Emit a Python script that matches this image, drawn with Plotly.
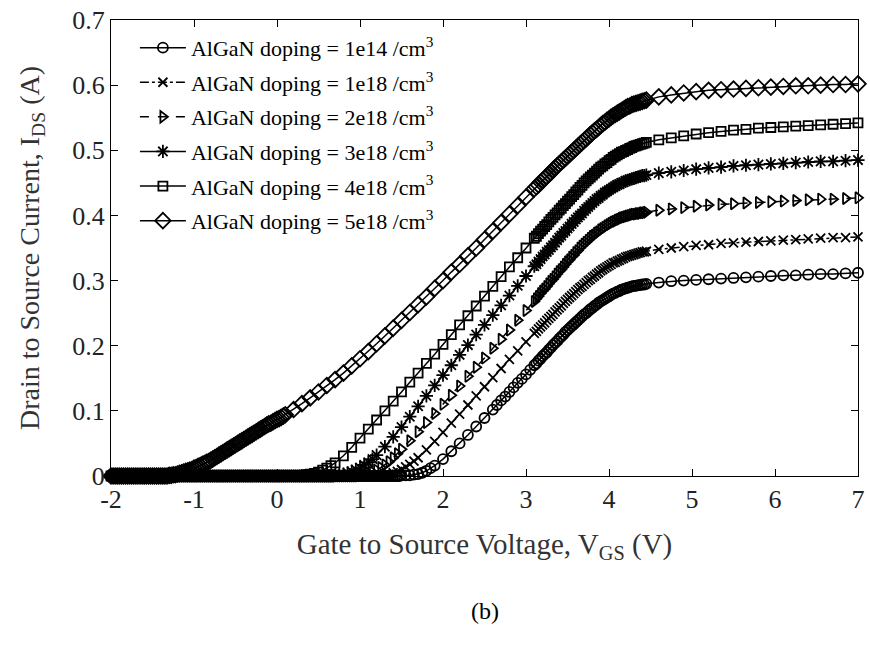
import plotly.graph_objects as go

# ---------------------------------------------------------------------------
# Transfer characteristics I_DS(V_GS) for six AlGaN barrier doping levels.
# The sweep is stored in pieces: a common off-state sweep, a per-device
# turn-on / linear part, a common fine sweep through the knee and a common
# coarse sweep through saturation.
# ---------------------------------------------------------------------------

# Off-state sweep (V) and current (A), shared by all devices
vgs_off = [
    -2.0, -1.975, -1.95, -1.925, -1.9, -1.875, -1.85, -1.825, -1.8, -1.775,
    -1.75, -1.725, -1.7, -1.675, -1.65, -1.625, -1.6, -1.575, -1.55, -1.525,
    -1.5, -1.475, -1.45, -1.425, -1.4, -1.375, -1.35, -1.325, -1.3, -1.275,
    -1.25, -1.225, -1.2, -1.175, -1.15, -1.125, -1.1, -1.075, -1.05, -1.025,
    -1.0, -0.975, -0.95, -0.925, -0.9, -0.875, -0.85, -0.825, -0.8, -0.775,
    -0.75, -0.725, -0.7, -0.675, -0.65, -0.625, -0.6, -0.575, -0.55, -0.525,
    -0.5, -0.475, -0.45, -0.425, -0.4, -0.375, -0.35, -0.325, -0.3, -0.275,
    -0.25, -0.225, -0.2, -0.175, -0.15, -0.125, -0.1, -0.075, -0.05, -0.025,
    0.0, 0.025, 0.05, 0.075, 0.1, 0.125, 0.15, 0.175, 0.2, 0.225,
    0.25, 0.275, 0.3, 0.325, 0.35, 0.375, 0.4, 0.425, 0.45, 0.475,
    0.5, 0.525, 0.55, 0.575, 0.6, 0.625, 0.65, 0.675, 0.7, 0.725,
    0.75, 0.775, 0.8, 0.825, 0.85, 0.875, 0.9, 0.925, 0.95, 0.975,
    1.0, 1.025, 1.05, 1.075, 1.1, 1.125, 1.15, 1.175, 1.2, 1.225,
    1.25, 1.275, 1.3, 1.325, 1.35, 1.375, 1.4, 1.425, 1.45, 1.475,
]
ids_off = [
    0, 0, 0, 0, 0, 0, 0, 0, 0, 0,
    0, 0, 0, 0, 0, 0, 0, 0, 0, 0,
    0, 0, 0, 0, 0, 0, 0, 0, 0, 0,
    0, 0, 0, 0, 0, 0, 0, 0, 0, 0,
    0, 0, 0, 0, 0, 0, 0, 0, 0, 0,
    0, 0, 0, 0, 0, 0, 0, 0, 0, 0,
    0, 0, 0, 0, 0, 0, 0, 0, 0, 0,
    0, 0, 0, 0, 0, 0, 0, 0, 0, 0,
    0, 0, 0, 0, 0, 0, 0, 0, 0, 0,
    0, 0, 0, 0, 0, 0, 0, 0, 0, 0,
    0, 0, 0, 0, 0, 0, 0, 0, 0, 0,
    0, 0, 0, 0, 0, 0, 0, 0, 0, 0,
    0, 0, 0, 0, 0, 0, 0, 0, 0, 0,
    0, 0, 0, 0, 0, 0, 0, 0, 0, 0,
]
# number of off-state points used by each device (last one below its turn-on)
n_off = {"1e14": 140, "1e18": 128, "2e18": 120, "3e18": 108, "4e18": 92, "5e18": 28}

# Turn-on and linear region, per device
vgs_rise = {
    "1e14": [1.5, 1.55, 1.6, 1.65, 1.7, 1.75, 1.8, 1.85, 1.9,
             2.0, 2.1, 2.2, 2.3, 2.4, 2.5, 2.6,
             2.65, 2.7, 2.75, 2.8, 2.85, 2.9, 2.95, 3.0, 3.05, 3.1],
    "1e18": [1.2, 1.25, 1.3, 1.35, 1.4, 1.45, 1.5, 1.55, 1.6, 1.65, 1.7,
             1.8, 1.9, 2.0, 2.1, 2.2, 2.3, 2.4, 2.5, 2.6, 2.7, 2.8, 2.9, 3.0, 3.1],
    "2e18": [1.0, 1.05, 1.1, 1.15, 1.2, 1.25, 1.3, 1.35, 1.4, 1.45, 1.5,
             1.6, 1.7, 1.8, 1.9, 2.0, 2.1, 2.2, 2.3, 2.4, 2.5, 2.6, 2.7, 2.8, 2.9, 3.0, 3.1],
    "3e18": [0.7, 0.75, 0.8, 0.85, 0.9, 0.95, 1.0, 1.05, 1.1, 1.15, 1.2,
             1.3, 1.4, 1.5, 1.6, 1.7, 1.8, 1.9, 2.0, 2.1, 2.2, 2.3, 2.4, 2.5, 2.6,
             2.7, 2.8, 2.9, 3.0, 3.1],
    "4e18": [0.3, 0.35, 0.4, 0.45, 0.5, 0.55, 0.6, 0.65, 0.7,
             0.8, 0.9, 1.0, 1.1, 1.2, 1.3, 1.4, 1.5, 1.6, 1.7, 1.8, 1.9, 2.0, 2.1,
             2.2, 2.3, 2.4, 2.5, 2.6, 2.7, 2.8, 2.9, 3.0, 3.1],
    "5e18": [-1.3, -1.275, -1.25, -1.225, -1.2, -1.175, -1.15, -1.125, -1.1, -1.075,
             -1.05, -1.025, -1.0, -0.975, -0.95, -0.925, -0.9, -0.875, -0.85, -0.825,
             -0.8, -0.775, -0.75, -0.725, -0.7, -0.675, -0.65, -0.625, -0.6, -0.575,
             -0.55, -0.525, -0.5, -0.475, -0.45, -0.425, -0.4, -0.375, -0.35, -0.325,
             -0.3, -0.275, -0.25, -0.225, -0.2, -0.175, -0.15, -0.125, -0.1, -0.075,
             -0.05, -0.025, 0.0, 0.025, 0.05, 0.075, 0.1,
             0.2, 0.3, 0.4, 0.5, 0.6, 0.7, 0.8, 0.9, 1.0, 1.1, 1.2, 1.3, 1.4, 1.5,
             1.6, 1.7, 1.8, 1.9, 2.0, 2.1, 2.2, 2.3, 2.4, 2.5, 2.6, 2.7, 2.8, 2.9,
             3.0, 3.1],
}
ids_rise = {
    "1e14": [0.001, 0.001, 0.001, 0.002, 0.003, 0.005, 0.008, 0.012, 0.016,
             0.026, 0.038, 0.050, 0.063, 0.076, 0.089, 0.102,
             0.109, 0.116, 0.122, 0.129, 0.136, 0.143, 0.149, 0.156, 0.163, 0.170],
    "1e18": [0.001, 0.001, 0.002, 0.003, 0.005, 0.007, 0.010, 0.014, 0.018, 0.023, 0.028,
             0.040, 0.053, 0.067, 0.081, 0.095, 0.109, 0.123, 0.137, 0.151, 0.165,
             0.179, 0.192, 0.206, 0.219],
    "2e18": [0.001, 0.002, 0.004, 0.006, 0.009, 0.013, 0.017, 0.022, 0.028, 0.034, 0.041,
             0.054, 0.068, 0.082, 0.096, 0.110, 0.124, 0.138, 0.153, 0.167, 0.181,
             0.196, 0.210, 0.224, 0.239, 0.254, 0.268],
    "3e18": [0.001, 0.002, 0.003, 0.005, 0.007, 0.010, 0.013, 0.017, 0.021, 0.026, 0.032,
             0.045, 0.060, 0.075, 0.091, 0.107, 0.123, 0.139, 0.155, 0.170, 0.186,
             0.201, 0.217, 0.232, 0.247, 0.262, 0.277, 0.292, 0.307, 0.322],
    "4e18": [0.001, 0.002, 0.003, 0.004, 0.006, 0.009, 0.012, 0.016, 0.020,
             0.031, 0.044, 0.058, 0.072, 0.086, 0.100, 0.115, 0.129, 0.144, 0.158,
             0.173, 0.187, 0.202, 0.217, 0.232, 0.246, 0.261, 0.276, 0.291, 0.306,
             0.321, 0.335, 0.350, 0.365],
    "5e18": [0.001, 0.001, 0.002, 0.002, 0.003, 0.004, 0.005, 0.006, 0.007, 0.008,
             0.009, 0.010, 0.012, 0.013, 0.015, 0.016, 0.018, 0.019, 0.021, 0.022,
             0.024, 0.026, 0.028, 0.030, 0.032, 0.034, 0.036, 0.038, 0.040, 0.042,
             0.044, 0.046, 0.048, 0.050, 0.052, 0.054, 0.056, 0.058, 0.060, 0.062,
             0.064, 0.066, 0.068, 0.070, 0.072, 0.074, 0.076, 0.078, 0.080, 0.081,
             0.083, 0.085, 0.087, 0.088, 0.090, 0.092, 0.094,
             0.102, 0.111, 0.120, 0.129, 0.139, 0.148, 0.158, 0.169, 0.180, 0.191,
             0.203, 0.215, 0.227, 0.239, 0.251, 0.263, 0.275, 0.288, 0.300, 0.313,
             0.325, 0.338, 0.350, 0.363, 0.376, 0.389, 0.402, 0.415, 0.428, 0.441],
}

# Fine sweep through the knee (V), shared
vgs_knee = [
    3.125, 3.15, 3.175, 3.2, 3.225, 3.25, 3.275, 3.3, 3.325, 3.35,
    3.375, 3.4, 3.425, 3.45, 3.475, 3.5, 3.525, 3.55, 3.575, 3.6,
    3.625, 3.65, 3.675, 3.7, 3.725, 3.75, 3.775, 3.8, 3.825, 3.85,
    3.875, 3.9, 3.925, 3.95, 3.975, 4.0, 4.025, 4.05, 4.075, 4.1,
    4.125, 4.15, 4.175, 4.2, 4.225, 4.25, 4.275, 4.3, 4.325, 4.35,
    4.375, 4.4, 4.425, 4.45,
]
ids_knee = {
    "1e14": [0.173, 0.177, 0.180, 0.184, 0.187, 0.190, 0.194, 0.197, 0.201, 0.204,
             0.207, 0.211, 0.214, 0.217, 0.221, 0.224, 0.227, 0.230, 0.233, 0.236,
             0.239, 0.242, 0.245, 0.248, 0.250, 0.253, 0.256, 0.258, 0.261, 0.263,
             0.266, 0.268, 0.270, 0.272, 0.274, 0.276, 0.278, 0.280, 0.281, 0.283,
             0.284, 0.286, 0.287, 0.288, 0.289, 0.290, 0.291, 0.292, 0.292, 0.293,
             0.293, 0.294, 0.294, 0.295],
    "1e18": [0.222, 0.226, 0.229, 0.232, 0.235, 0.239, 0.242, 0.245, 0.248, 0.252,
             0.255, 0.258, 0.261, 0.265, 0.268, 0.271, 0.274, 0.277, 0.280, 0.283,
             0.286, 0.289, 0.291, 0.294, 0.297, 0.300, 0.302, 0.305, 0.307, 0.310,
             0.312, 0.315, 0.317, 0.319, 0.321, 0.323, 0.325, 0.327, 0.328, 0.330,
             0.331, 0.333, 0.334, 0.336, 0.337, 0.338, 0.339, 0.340, 0.341, 0.342,
             0.343, 0.344, 0.344, 0.345],
    "2e18": [0.272, 0.276, 0.280, 0.284, 0.287, 0.291, 0.295, 0.299, 0.302, 0.306,
             0.310, 0.314, 0.317, 0.321, 0.325, 0.329, 0.332, 0.336, 0.339, 0.343,
             0.346, 0.350, 0.353, 0.356, 0.359, 0.362, 0.365, 0.368, 0.370, 0.373,
             0.375, 0.378, 0.380, 0.382, 0.384, 0.386, 0.388, 0.390, 0.391, 0.393,
             0.394, 0.396, 0.397, 0.398, 0.399, 0.400, 0.401, 0.402, 0.402, 0.403,
             0.403, 0.404, 0.404, 0.405],
    "3e18": [0.325, 0.329, 0.333, 0.337, 0.340, 0.344, 0.347, 0.351, 0.354, 0.358,
             0.362, 0.366, 0.369, 0.373, 0.376, 0.380, 0.383, 0.387, 0.390, 0.394,
             0.397, 0.400, 0.403, 0.407, 0.410, 0.413, 0.416, 0.419, 0.422, 0.425,
             0.427, 0.430, 0.432, 0.435, 0.437, 0.439, 0.441, 0.443, 0.445, 0.447,
             0.448, 0.450, 0.451, 0.453, 0.454, 0.455, 0.456, 0.457, 0.458, 0.459,
             0.460, 0.461, 0.461, 0.462],
    "4e18": [0.368, 0.372, 0.376, 0.379, 0.383, 0.386, 0.390, 0.394, 0.397, 0.401,
             0.404, 0.408, 0.411, 0.415, 0.418, 0.422, 0.425, 0.429, 0.432, 0.436,
             0.439, 0.443, 0.446, 0.450, 0.453, 0.456, 0.459, 0.462, 0.465, 0.468,
             0.471, 0.474, 0.476, 0.479, 0.481, 0.484, 0.486, 0.489, 0.491, 0.493,
             0.495, 0.497, 0.498, 0.500, 0.501, 0.503, 0.504, 0.506, 0.507, 0.508,
             0.509, 0.510, 0.511, 0.512],
    "5e18": [0.444, 0.447, 0.451, 0.454, 0.457, 0.460, 0.463, 0.466, 0.470, 0.473,
             0.476, 0.479, 0.482, 0.485, 0.488, 0.491, 0.494, 0.497, 0.500, 0.503,
             0.506, 0.509, 0.512, 0.515, 0.518, 0.521, 0.524, 0.527, 0.530, 0.532,
             0.535, 0.538, 0.541, 0.543, 0.546, 0.548, 0.551, 0.553, 0.555, 0.557,
             0.559, 0.561, 0.563, 0.565, 0.567, 0.568, 0.570, 0.571, 0.572, 0.573,
             0.574, 0.575, 0.576, 0.577],
}

# Coarse sweep through saturation (V), shared
vgs_sat = [4.6, 4.75, 4.9, 5.05, 5.2, 5.35, 5.5, 5.65, 5.8, 5.95,
           6.1, 6.25, 6.4, 6.55, 6.7, 6.85, 7.0]
ids_sat = {
    "1e14": [0.297, 0.299, 0.300, 0.301, 0.302, 0.303, 0.304, 0.305, 0.306, 0.307,
             0.308, 0.308, 0.309, 0.310, 0.310, 0.311, 0.312],
    "1e18": [0.348, 0.350, 0.352, 0.354, 0.355, 0.357, 0.358, 0.359, 0.360, 0.361,
             0.362, 0.363, 0.364, 0.365, 0.366, 0.366, 0.367],
    "2e18": [0.408, 0.410, 0.412, 0.414, 0.416, 0.417, 0.418, 0.419, 0.420, 0.421,
             0.422, 0.423, 0.424, 0.425, 0.425, 0.426, 0.427],
    "3e18": [0.465, 0.467, 0.469, 0.471, 0.473, 0.474, 0.476, 0.477, 0.478, 0.479,
             0.480, 0.481, 0.482, 0.483, 0.483, 0.484, 0.485],
    "4e18": [0.516, 0.519, 0.522, 0.525, 0.527, 0.529, 0.531, 0.532, 0.534, 0.535,
             0.536, 0.537, 0.538, 0.539, 0.540, 0.541, 0.542],
    "5e18": [0.582, 0.585, 0.588, 0.590, 0.592, 0.593, 0.594, 0.595, 0.596, 0.597,
             0.598, 0.599, 0.599, 0.600, 0.601, 0.601, 0.602],
}

dopings = ["1e14", "1e18", "2e18", "3e18", "4e18", "5e18"]

x_ticks = [-2, -1, 0, 1, 2, 3, 4, 5, 6, 7]
x_tick_text = ["-2", "-1", "0", "1", "2", "3", "4", "5", "6", "7"]
y_ticks = [0, 0.1, 0.2, 0.3, 0.4, 0.5, 0.6, 0.7]
y_tick_text = ["0", "0.1", "0.2", "0.3", "0.4", "0.5", "0.6", "0.7"]

# marker symbol, marker size, line dash
styles = {
    "1e14": ("circle-open", 10, "solid"),
    "1e18": ("x-thin-open", 9, "dashdot"),
    "2e18": ("triangle-right-open", 10, "dash"),
    "3e18": ("asterisk-open", 11, "solid"),
    "4e18": ("square-open", 9, "solid"),
    "5e18": ("diamond-open", 12, "solid"),
}

assert len(vgs_off) == len(ids_off)
for d in dopings:
    assert len(vgs_rise[d]) == len(ids_rise[d]), (d, "rise")
    assert len(vgs_knee) == len(ids_knee[d]), (d, "knee")
    assert len(vgs_sat) == len(ids_sat[d]), (d, "sat")

FONT = "Liberation Serif, Times New Roman, serif"

fig = go.Figure()
for d in dopings:
    k = n_off[d]
    x = vgs_off[:k] + vgs_rise[d] + vgs_knee + vgs_sat
    y = ids_off[:k] + ids_rise[d] + ids_knee[d] + ids_sat[d]
    sym, size, dash = styles[d]
    fig.add_trace(go.Scatter(
        x=x, y=y, name=f"AlGaN doping = {d} /cm<sup>3</sup>",
        legendgroup=d, mode="lines+markers",
        line=dict(color="black", width=1.5, dash=dash),
        marker=dict(symbol=sym, size=size, color="black",
                    line=dict(color="black", width=1.8)),
        cliponaxis=False,
    ))

axis_common = dict(
    showline=True, linecolor="black", linewidth=1, mirror="ticks",
    ticks="inside", ticklen=7, tickwidth=1, tickcolor="black",
    showgrid=False, zeroline=False,
    tickfont=dict(family=FONT, size=26, color="#222"),
)

fig.update_xaxes(
    range=[-2, 7], tickvals=x_ticks, ticktext=x_tick_text,
    ticklabeloverflow="allow",
    title=dict(text="Gate to Source Voltage, V<sub>GS</sub> (V)",
               font=dict(family=FONT, size=29, color="#333"), standoff=20),
    **axis_common,
)
fig.update_yaxes(
    range=[0, 0.7], tickvals=y_ticks, ticktext=y_tick_text,
    title=dict(text="Drain to Source Current, I<sub>DS</sub> (A)",
               font=dict(family=FONT, size=28, color="#333"), standoff=24),
    **axis_common,
)

fig.add_annotation(
    text="(b)", xref="paper", yref="paper", x=0.501, y=-0.296,
    xanchor="center", yanchor="middle",
    showarrow=False, font=dict(family=FONT, size=24, color="black"),
)

fig.update_layout(
    width=870, height=651,
    margin=dict(l=111, r=5, t=20, b=175),
    paper_bgcolor="white", plot_bgcolor="white",
    font=dict(family=FONT, color="black"),
    legend=dict(
        x=0.032, y=0.985, xanchor="left", yanchor="top",
        bgcolor="rgba(255,255,255,0)", borderwidth=0,
        font=dict(family=FONT, size=22, color="black"),
        itemwidth=46, tracegroupgap=3,
    ),
)

fig.write_html("out.html")
